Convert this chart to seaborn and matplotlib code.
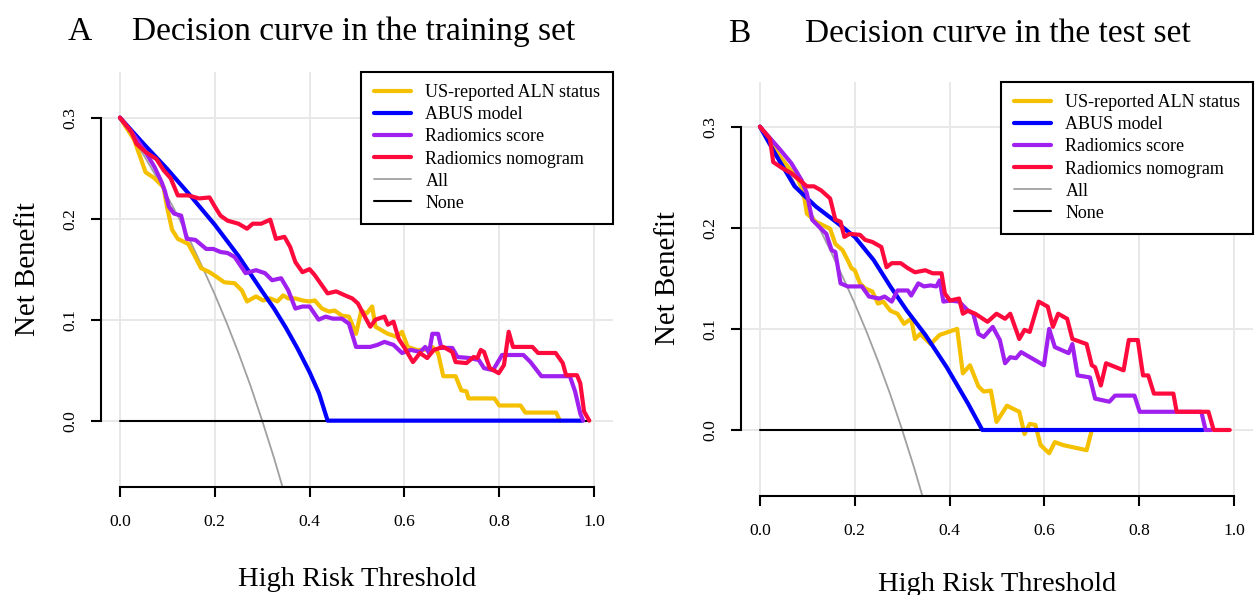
import pandas as pd
import seaborn as sns
import matplotlib.pyplot as plt
from matplotlib.lines import Line2D

sns.set_style('white')
plt.rcParams['font.family'] = ['Liberation Serif', 'DejaVu Serif']
plt.rcParams['text.color'] = 'black'

# ---- data ----
labels = ['US-reported ALN status', 'ABUS model', 'Radiomics score',
          'Radiomics nomogram', 'All', 'None']
colors = ['#F5C000', '#0000FF', '#A020F0', '#FF0A3C', '#A0A0A0', '#000000']

# treat-all / treat-none references (same prevalence in both sets)
all_x = [0.0, 0.025, 0.05, 0.075, 0.10, 0.125, 0.15, 0.175, 0.20, 0.225,
         0.25, 0.275, 0.30, 0.325, 0.35]
all_nb = [0.300, 0.282, 0.263, 0.243, 0.222, 0.200, 0.176, 0.151, 0.125, 0.097,
          0.067, 0.035, 0.000, -0.037, -0.077]
none_x = [0.0, 0.99]
none_nb = [0.0, 0.0]

# training set (A)
a_us_x = [0.000, 0.030, 0.054, 0.073, 0.092, 0.099, 0.110, 0.122, 0.144, 0.159,
          0.171, 0.189, 0.205, 0.220, 0.242, 0.257, 0.268, 0.287, 0.302, 0.317,
          0.332, 0.344, 0.355, 0.370, 0.385, 0.400, 0.411, 0.426, 0.441, 0.453,
          0.468, 0.483, 0.498, 0.509, 0.520, 0.532, 0.539, 0.550, 0.565, 0.584,
          0.595, 0.607, 0.626, 0.641, 0.659, 0.671, 0.682, 0.708, 0.720, 0.731,
          0.735, 0.790, 0.800, 0.845, 0.855, 0.920, 0.928]
a_us_nb = [0.300, 0.278, 0.246, 0.240, 0.231, 0.212, 0.189, 0.180, 0.175, 0.162,
           0.151, 0.147, 0.142, 0.137, 0.136, 0.129, 0.118, 0.123, 0.119, 0.121,
           0.118, 0.124, 0.121, 0.121, 0.119, 0.118, 0.119, 0.111, 0.108, 0.109,
           0.104, 0.103, 0.086, 0.109, 0.106, 0.113, 0.093, 0.090, 0.086, 0.083,
           0.088, 0.073, 0.070, 0.070, 0.073, 0.067, 0.044, 0.044, 0.030, 0.029,
           0.022, 0.022, 0.015, 0.015, 0.008, 0.008, 0.000]

a_abus_x = [0.0, 0.05, 0.10, 0.15, 0.20, 0.25, 0.30, 0.325, 0.35, 0.375, 0.40,
            0.42, 0.438, 0.975]
a_abus_nb = [0.300, 0.274, 0.249, 0.222, 0.194, 0.163, 0.128, 0.111, 0.092, 0.071,
             0.048, 0.027, 0.000, 0.000]

a_rad_x = [0.000, 0.024, 0.054, 0.073, 0.088, 0.095, 0.103, 0.114, 0.129, 0.141,
           0.159, 0.182, 0.197, 0.212, 0.227, 0.242, 0.265, 0.287, 0.306, 0.321,
           0.340, 0.355, 0.370, 0.385, 0.400, 0.419, 0.434, 0.449, 0.468, 0.483,
           0.498, 0.513, 0.528, 0.543, 0.558, 0.577, 0.595, 0.614, 0.633, 0.644,
           0.652, 0.659, 0.671, 0.678, 0.701, 0.712, 0.738, 0.757, 0.768, 0.787,
           0.806, 0.851, 0.866, 0.889, 0.949, 0.960, 0.971, 0.977]
a_rad_nb = [0.300, 0.286, 0.266, 0.251, 0.236, 0.227, 0.212, 0.205, 0.203, 0.180,
            0.179, 0.170, 0.170, 0.167, 0.166, 0.162, 0.146, 0.149, 0.146, 0.139,
            0.141, 0.129, 0.111, 0.113, 0.113, 0.100, 0.103, 0.101, 0.101, 0.096,
            0.073, 0.073, 0.073, 0.075, 0.078, 0.075, 0.067, 0.070, 0.068, 0.073,
            0.067, 0.086, 0.086, 0.072, 0.072, 0.063, 0.062, 0.060, 0.052, 0.050,
            0.065, 0.065, 0.058, 0.044, 0.044, 0.029, 0.007, 0.000]

a_nomo_x = [0.000, 0.024, 0.035, 0.054, 0.077, 0.092, 0.107, 0.122, 0.144, 0.167,
            0.189, 0.200, 0.212, 0.227, 0.250, 0.268, 0.280, 0.298, 0.317, 0.329,
            0.347, 0.359, 0.370, 0.385, 0.400, 0.411, 0.423, 0.438, 0.456, 0.475,
            0.490, 0.502, 0.513, 0.528, 0.539, 0.558, 0.565, 0.577, 0.588, 0.599,
            0.618, 0.633, 0.648, 0.662, 0.682, 0.701, 0.708, 0.731, 0.746, 0.754,
            0.761, 0.768, 0.780, 0.799, 0.810, 0.820, 0.829, 0.870, 0.882, 0.919,
            0.934, 0.941, 0.964, 0.971, 0.979, 0.990]
a_nomo_nb = [0.300, 0.286, 0.274, 0.266, 0.259, 0.248, 0.240, 0.223, 0.223, 0.220,
             0.221, 0.212, 0.203, 0.198, 0.195, 0.190, 0.195, 0.195, 0.199, 0.180,
             0.182, 0.172, 0.157, 0.147, 0.150, 0.144, 0.136, 0.126, 0.128, 0.124,
             0.121, 0.116, 0.106, 0.093, 0.100, 0.103, 0.095, 0.098, 0.081, 0.073,
             0.058, 0.067, 0.062, 0.070, 0.073, 0.068, 0.058, 0.057, 0.063, 0.062,
             0.070, 0.068, 0.052, 0.047, 0.055, 0.088, 0.073, 0.073, 0.067, 0.067,
             0.057, 0.045, 0.045, 0.037, 0.009, 0.000]

# test set (B)
b_us_x = [0.000, 0.040, 0.081, 0.092, 0.099, 0.118, 0.148, 0.159, 0.174, 0.185,
          0.193, 0.200, 0.211, 0.222, 0.237, 0.249, 0.260, 0.275, 0.290, 0.304,
          0.319, 0.327, 0.338, 0.360, 0.379, 0.416, 0.428, 0.443, 0.461, 0.472,
          0.487, 0.499, 0.521, 0.547, 0.558, 0.569, 0.581, 0.592, 0.610, 0.622,
          0.640, 0.689, 0.700]
b_us_nb = [0.300, 0.272, 0.247, 0.234, 0.214, 0.206, 0.199, 0.184, 0.178, 0.168,
           0.160, 0.158, 0.145, 0.140, 0.137, 0.125, 0.127, 0.118, 0.115, 0.105,
           0.110, 0.090, 0.095, 0.085, 0.094, 0.100, 0.056, 0.064, 0.043, 0.038,
           0.039, 0.008, 0.024, 0.018, -0.004, 0.006, 0.005, -0.015, -0.023, -0.012,
           -0.015, -0.020, 0.000]

b_abus_x = [0.0, 0.03, 0.073, 0.118, 0.16, 0.20, 0.24, 0.275, 0.31, 0.349, 0.394,
            0.439, 0.469, 0.935]
b_abus_nb = [0.300, 0.275, 0.241, 0.221, 0.206, 0.191, 0.168, 0.142, 0.118, 0.094,
             0.062, 0.026, 0.000, 0.000]

b_rad_x = [0.000, 0.043, 0.066, 0.088, 0.099, 0.110, 0.129, 0.140, 0.151, 0.159,
           0.170, 0.185, 0.215, 0.230, 0.252, 0.263, 0.278, 0.290, 0.312, 0.319,
           0.334, 0.346, 0.360, 0.372, 0.379, 0.387, 0.401, 0.420, 0.439, 0.450,
           0.461, 0.472, 0.491, 0.506, 0.517, 0.528, 0.540, 0.551, 0.599, 0.610,
           0.622, 0.651, 0.659, 0.670, 0.696, 0.707, 0.737, 0.749, 0.790, 0.801,
           0.931, 0.940, 0.952]
b_rad_nb = [0.300, 0.277, 0.264, 0.247, 0.234, 0.208, 0.199, 0.194, 0.178, 0.176,
            0.145, 0.142, 0.142, 0.132, 0.130, 0.132, 0.127, 0.138, 0.138, 0.133,
            0.145, 0.142, 0.143, 0.142, 0.148, 0.127, 0.128, 0.127, 0.118, 0.115,
            0.095, 0.092, 0.102, 0.089, 0.066, 0.072, 0.071, 0.077, 0.064, 0.100,
            0.082, 0.076, 0.085, 0.054, 0.052, 0.031, 0.028, 0.034, 0.034, 0.018,
            0.018, 0.000, 0.000]

b_nomo_x = [0.000, 0.021, 0.028, 0.047, 0.066, 0.084, 0.099, 0.114, 0.129, 0.148,
            0.159, 0.170, 0.178, 0.189, 0.211, 0.222, 0.237, 0.256, 0.267, 0.278,
            0.297, 0.312, 0.327, 0.349, 0.364, 0.383, 0.390, 0.401, 0.420, 0.428,
            0.439, 0.454, 0.480, 0.499, 0.517, 0.528, 0.547, 0.558, 0.569, 0.588,
            0.607, 0.618, 0.629, 0.648, 0.659, 0.689, 0.700, 0.707, 0.719, 0.730,
            0.767, 0.778, 0.797, 0.808, 0.819, 0.831, 0.872, 0.879, 0.946, 0.957,
            0.991]
b_nomo_nb = [0.300, 0.288, 0.265, 0.259, 0.254, 0.247, 0.241, 0.241, 0.237, 0.229,
             0.208, 0.206, 0.191, 0.194, 0.193, 0.188, 0.186, 0.181, 0.161, 0.165,
             0.165, 0.160, 0.156, 0.158, 0.155, 0.155, 0.135, 0.128, 0.130, 0.115,
             0.118, 0.115, 0.107, 0.115, 0.110, 0.115, 0.090, 0.099, 0.097, 0.127,
             0.122, 0.102, 0.115, 0.110, 0.090, 0.085, 0.064, 0.062, 0.044, 0.066,
             0.059, 0.089, 0.089, 0.054, 0.054, 0.036, 0.036, 0.018, 0.018, 0.000,
             0.000]

panels = [
    ('A', 'Decision curve in the training set',
     [(a_us_x, a_us_nb), (a_abus_x, a_abus_nb), (a_rad_x, a_rad_nb), (a_nomo_x, a_nomo_nb)]),
    ('B', 'Decision curve in the test set',
     [(b_us_x, b_us_nb), (b_abus_x, b_abus_nb), (b_rad_x, b_rad_nb), (b_nomo_x, b_nomo_nb)]),
]

fig = plt.figure(figsize=(12.55, 5.95), dpi=100)
W, H = 1255, 595
# plot regions in pixels: left, top, right, bottom
regions = [(101, 71.7, 613, 486.7), (741, 81.7, 1253, 495.7)]
ylims = [(-0.0654, 0.3455), (-0.0650, 0.3445)]
letter_pos = [(68, 40), (728, 42)]
title_pos = [(132, 40), (805, 42)]
ylab_pos = [(28, 269), (668, 278)]
xlab_pos = [(357, 586), (997, 591)]

widths = [3.0, 3.0, 3.0, 3.0, 1.3, 1.5]

for i, (letter, title, curves) in enumerate(panels):
    l, t, r, b = regions[i]
    ax = fig.add_axes([l / W, (H - b) / H, (r - l) / W, (b - t) / H])
    ax.set_xlim(-0.04, 1.04)
    ax.set_ylim(*ylims[i])
    ax.set_xticks([0.0, 0.2, 0.4, 0.6, 0.8, 1.0])
    ax.set_yticks([0.0, 0.1, 0.2, 0.3])
    ax.set_xticklabels(['0.0', '0.2', '0.4', '0.6', '0.8', '1.0'])
    ax.set_yticklabels(['0.0', '0.1', '0.2', '0.3'])
    ax.grid(True, color='#e8e8e8', lw=1.4)
    ax.set_axisbelow(True)

    series = [(all_x, all_nb, 4), (none_x, none_nb, 5)] + \
             [(x, y, k) for k, (x, y) in enumerate(curves)]
    for x, y, k in series:
        df = pd.DataFrame({'threshold': x, 'net_benefit': y})
        sns.lineplot(data=df, x='threshold', y='net_benefit', color=colors[k],
                     lw=widths[k], sort=False, estimator=None, ax=ax,
                     solid_capstyle='round', solid_joinstyle='round')
    ax.set_xlabel('')
    ax.set_ylabel('')

    for side in ['top', 'right']:
        ax.spines[side].set_visible(False)
    for side in ['left', 'bottom']:
        ax.spines[side].set_linewidth(1.5)
        ax.spines[side].set_color('black')
    ax.spines['left'].set_bounds(0, 0.3)
    ax.spines['bottom'].set_bounds(0, 1)
    ax.tick_params(axis='both', direction='out', length=7.5, width=1.5,
                   bottom=True, left=True, color='black', labelsize=12.6,
                   labelcolor='black')
    ax.tick_params(axis='x', pad=12)
    ax.tick_params(axis='y', pad=8.5)
    for lab in ax.get_yticklabels():
        lab.set_rotation(90)
        lab.set_va('center')

    handles = [Line2D([], [], color=colors[k], lw=widths[k], solid_capstyle='round')
               for k in range(6)]
    leg = ax.legend(handles, labels, loc='upper right', borderaxespad=0,
                    frameon=True, fancybox=False, edgecolor='black', framealpha=1,
                    fontsize=13, handlelength=2.05, handletextpad=0.8,
                    borderpad=0.7, labelspacing=0.28, labelcolor='black')
    leg.get_frame().set_linewidth(1.5)

    fig.text(letter_pos[i][0] / W, 1 - letter_pos[i][1] / H, letter,
             fontsize=24.1, ha='left', va='baseline')
    fig.text(title_pos[i][0] / W, 1 - title_pos[i][1] / H, title,
             fontsize=24.1, ha='left', va='baseline')
    fig.text(ylab_pos[i][0] / W, 1 - ylab_pos[i][1] / H, 'Net Benefit',
             fontsize=20.8, rotation=90, ha='center', va='center')
    fig.text(xlab_pos[i][0] / W, 1 - xlab_pos[i][1] / H, 'High Risk Threshold',
             fontsize=20.5, ha='center', va='baseline')

fig.savefig('out.png', dpi=100)
